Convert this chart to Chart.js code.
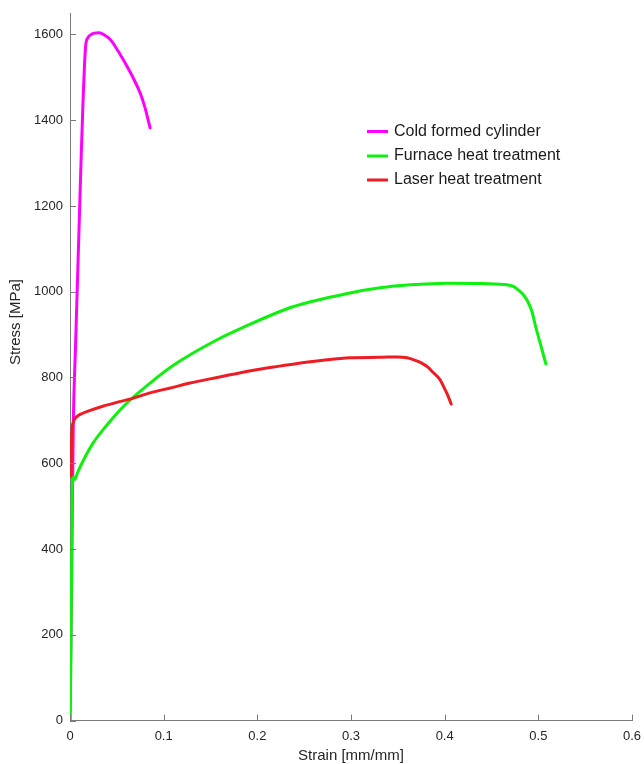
<!DOCTYPE html>
<html>
<head>
<meta charset="utf-8">
<script src="https://cdn.jsdelivr.net/npm/chart.js@4.4.1/dist/chart.umd.min.js"></script>
<style>
  body { margin: 0; background: #fff; }
  #wrap { width: 644px; height: 764px; }
</style>
</head>
<body>
<div id="wrap"><canvas id="stressChart" width="644" height="764"></canvas></div>
<script>
// series labels
var seriesNames = ["Cold formed cylinder", "Furnace heat treatment", "Laser heat treatment"];

// strain [mm/mm] and stress [MPa]
var coldStrain = [0, 0.0035, 0.006, 0.009, 0.012, 0.014, 0.0155, 0.0168, 0.019, 0.022, 0.026, 0.031, 0.036, 0.043, 0.05, 0.061, 0.068, 0.075, 0.08, 0.0855];
var coldStress = [0, 685, 880, 1100, 1320, 1450, 1530, 1575, 1592, 1599, 1603, 1604, 1600, 1588, 1566, 1525, 1496, 1463, 1430, 1382];

var furnStrain = [0, 0.001, 0.0015, 0.002, 0.0025, 0.0035, 0.005, 0.008, 0.015, 0.0246, 0.039, 0.05, 0.061, 0.0855, 0.11, 0.157, 0.182, 0.238, 0.299, 0.331, 0.363, 0.403, 0.44, 0.467, 0.474, 0.478, 0.483, 0.488, 0.493, 0.497, 0.503, 0.508];
var furnStress = [0, 150, 300, 450, 560, 568, 562, 578, 610, 647, 688, 716, 741, 787, 828, 888, 914, 965, 997, 1009, 1016, 1020, 1019, 1016, 1012, 1005, 995, 980, 955, 920, 872, 832];

var laserStrain = [0.0012, 0.0015, 0.002, 0.003, 0.005, 0.008, 0.011, 0.02, 0.035, 0.05, 0.065, 0.0855, 0.11, 0.128, 0.157, 0.182, 0.21, 0.238, 0.27, 0.299, 0.33, 0.35, 0.36, 0.367, 0.375, 0.382, 0.388, 0.395, 0.399, 0.403, 0.407];
var laserStress = [570, 640, 678, 692, 703, 710, 714, 722, 733, 742, 750, 764, 777, 787, 800, 811, 822, 831, 840, 846, 847, 848, 846, 841, 834, 824, 811, 795, 778, 760, 738];

// axis ticks
var xTicks = [0, 0.1, 0.2, 0.3, 0.4, 0.5, 0.6];
var yTicks = [0, 200, 400, 600, 800, 1000, 1200, 1400, 1600];

var colors = ['#ff00ff', '#0ef00e', '#ee1c25'];

function toPoints(xs, ys) {
    var pts = [];
    for (var i = 0; i < xs.length; i++) pts.push({x: xs[i], y: ys[i]});
    return pts;
}

var FONT = '"Liberation Sans", Arial, sans-serif';
var axisGrey = '#7a7a7a';

// inward ticks, axis titles and the legend box
var decor = {
    id: 'decor',
    afterDraw: function(chart) {
        var ctx = chart.ctx;
        var xs = chart.scales.x, ys = chart.scales.y;
        var area = chart.chartArea;
        ctx.save();
        ctx.strokeStyle = axisGrey;
        ctx.lineWidth = 1;
        ctx.beginPath();
        xTicks.forEach(function(v) {
            var px = Math.round(xs.getPixelForValue(v)) + 0.5;
            ctx.moveTo(px, area.bottom);
            ctx.lineTo(px, area.bottom - 6);
        });
        yTicks.forEach(function(v) {
            var py = Math.round(ys.getPixelForValue(v)) + 0.5;
            ctx.moveTo(area.left, py);
            ctx.lineTo(area.left + 6, py);
        });
        ctx.stroke();

        ctx.fillStyle = '#262626';
        ctx.font = '15px ' + FONT;
        ctx.textAlign = 'center';
        ctx.textBaseline = 'middle';
        ctx.fillText('Strain [mm/mm]', (area.left + area.right) / 2, 756);
        ctx.translate(16, 322);
        ctx.rotate(-Math.PI / 2);
        ctx.fillText('Stress [MPa]', 0, 0);
        ctx.restore();

        // legend
        ctx.save();
        ctx.font = '16px ' + FONT;
        ctx.textAlign = 'left';
        ctx.textBaseline = 'middle';
        var rowY = [131.5, 156, 180];
        chart.data.datasets.forEach(function(ds, i) {
            ctx.strokeStyle = ds.borderColor;
            ctx.lineWidth = 3;
            ctx.beginPath();
            ctx.moveTo(367, rowY[i]);
            ctx.lineTo(388, rowY[i]);
            ctx.stroke();
            ctx.fillStyle = '#1a1a1a';
            ctx.fillText(ds.label, 394, rowY[i]);
        });
        ctx.restore();
    }
};

var ctx = document.getElementById('stressChart').getContext('2d');
var chart = new Chart(ctx, {
    type: 'scatter',
    data: {
        datasets: [{
            label: seriesNames[0],
            data: toPoints(coldStrain, coldStress),
            borderColor: colors[0],
            order: 3
        }, {
            label: seriesNames[1],
            data: toPoints(furnStrain, furnStress),
            borderColor: colors[1],
            order: 2
        }, {
            label: seriesNames[2],
            data: toPoints(laserStrain, laserStress),
            borderColor: colors[2],
            order: 1
        }]
    },
    options: {
        responsive: false,
        animation: false,
        showLine: true,
        layout: { padding: { top: 13, right: 12, left: 0, bottom: 0 } },
        elements: {
            point: { radius: 0, hoverRadius: 0 },
            line: { borderWidth: 3, cubicInterpolationMode: 'monotone', fill: false, borderCapStyle: 'round', borderJoinStyle: 'round' }
        },
        plugins: {
            legend: { display: false },
            tooltip: { enabled: false }
        },
        scales: {
            x: {
                type: 'linear',
                min: 0,
                max: 0.6,
                afterBuildTicks: function(scale) {
                    scale.ticks = xTicks.map(function(v) { return {value: v}; });
                },
                afterFit: function(scale) {
                    scale.height = 43.5;
                    scale.paddingLeft = 0;
                    scale.paddingRight = 0;
                },
                grid: { display: false, drawTicks: false },
                border: { display: true, color: axisGrey, width: 1 },
                ticks: {
                    color: '#262626',
                    font: { family: FONT, size: 13 },
                    padding: 8,
                    maxRotation: 0,
                    callback: function(v) { return String(Math.round(v * 10) / 10); }
                }
            },
            y: {
                type: 'linear',
                min: 0,
                max: 1650,
                afterBuildTicks: function(scale) {
                    scale.ticks = yTicks.map(function(v) { return {value: v}; });
                },
                afterFit: function(scale) {
                    scale.width = 70;
                    scale.paddingTop = 0;
                    scale.paddingBottom = 0;
                },
                grid: { display: false, drawTicks: false },
                border: { display: true, color: axisGrey, width: 1 },
                ticks: {
                    color: '#262626',
                    font: { family: FONT, size: 13 },
                    padding: 7,
                    callback: function(v) { return String(v); }
                }
            }
        }
    },
    plugins: [decor]
});
</script>
</body>
</html>
